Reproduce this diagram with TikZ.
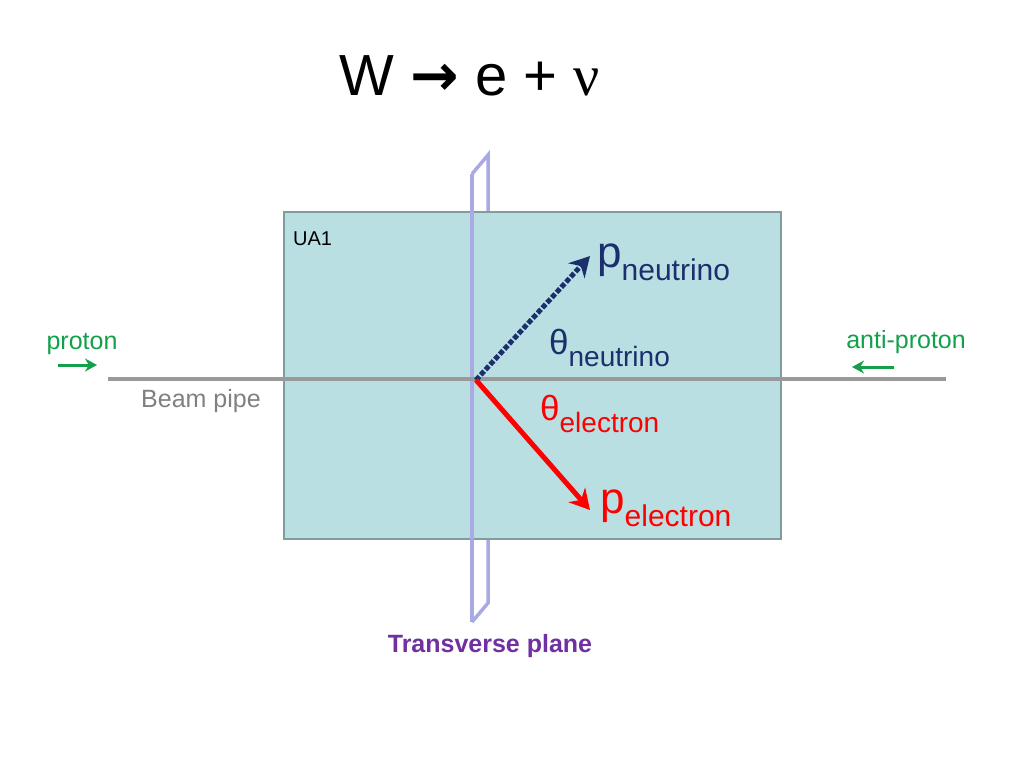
\documentclass[tikz,border=0pt]{standalone}
\usepackage{fontspec}
\setmainfont{Liberation Sans}
\newfontfamily\serfont{Liberation Serif}
\newfontfamily\djv{DejaVu Sans}
\usetikzlibrary{arrows.meta}
\definecolor{boxfill}{HTML}{BADFE3}
\definecolor{boxline}{HTML}{7F9C9E}
\definecolor{plane}{HTML}{A9A9E3}
\definecolor{navy}{HTML}{1A2F6B}
\definecolor{grn}{HTML}{12A04A}
\definecolor{purp}{HTML}{7030A0}
\begin{document}
\begin{tikzpicture}[x=1pt,y=-1pt,
  lbl/.style={inner sep=0pt,anchor=west},
  planeline/.style={draw=plane,line width=3.5pt}]
\useasboundingbox (0,0) rectangle (1024,768);
\node[inner sep=0] (title) at (470,76) {\fontsize{58}{66}\selectfont W {\djv\bfseries\char"2192} e + {\serfont ν}};
% plane back part
\draw[planeline] (472,174) -- (488,155) -- (488,603) -- (472,622);
\node[draw=boxline,line width=2pt,fill=boxfill,minimum width=497pt,minimum height=327pt,anchor=north west,inner sep=0] (box) at (283,211) {};
\node[lbl,anchor=north west] (ua1) at (293,232) {\fontsize{20}{24}\selectfont UA1};
\draw[planeline] (472,174) -- (472,622);
\coordinate (L) at (108,379); \coordinate (R) at (946,379);
\draw[gray!80,line width=3.5pt] (L) -- (R);
\coordinate (O) at (476,380);
\coordinate (N) at (590,256);
\coordinate (E) at (590,510);
\draw[navy,line width=5pt,dotted,-{Stealth[length=20pt,width=22pt]}] (O) -- (N);
\draw[red,line width=5pt,-{Stealth[length=20pt,width=22pt]}] (O) -- (E);
\node[lbl,text=navy] (pn) at (597,262) {\fontsize{44}{50}\selectfont p\textsubscript{\fontsize{30}{34}\selectfont neutrino}};
\node[lbl,text=navy] (tn) at (549,348) {\fontsize{35}{40}\selectfont θ\textsubscript{\fontsize{28}{32}\selectfont neutrino}};
\node[lbl,text=red] (te) at (540,414) {\fontsize{35}{40}\selectfont θ\textsubscript{\fontsize{28}{32}\selectfont electron}};
\node[lbl,text=red] (pe) at (600,508) {\fontsize{44}{50}\selectfont p\textsubscript{\fontsize{30}{34}\selectfont electron}};
\node[text=grn,inner sep=0] (pr) at (82,344) {\fontsize{25}{30}\selectfont proton};
\node[text=grn,inner sep=0] (ap) at (906,342) {\fontsize{25}{30}\selectfont anti-proton};
\coordinate (pa1) at (58,365); \coordinate (pa2) at (97,365);
\draw[grn,line width=3pt,-{Stealth[length=12pt,width=13pt]}] (pa1) -- (pa2);
\coordinate (aa1) at (894,367); \coordinate (aa2) at (852,367);
\draw[grn,line width=3pt,-{Stealth[length=12pt,width=13pt]}] (aa1) -- (aa2);
\node[text=gray,inner sep=0] (bp) at (201,401) {\fontsize{25}{30}\selectfont Beam pipe};
\node[text=purp,inner sep=0] (tp) at (490,646) {\fontsize{25}{30}\selectfont\bfseries Transverse plane};
\end{tikzpicture}
\end{document}
